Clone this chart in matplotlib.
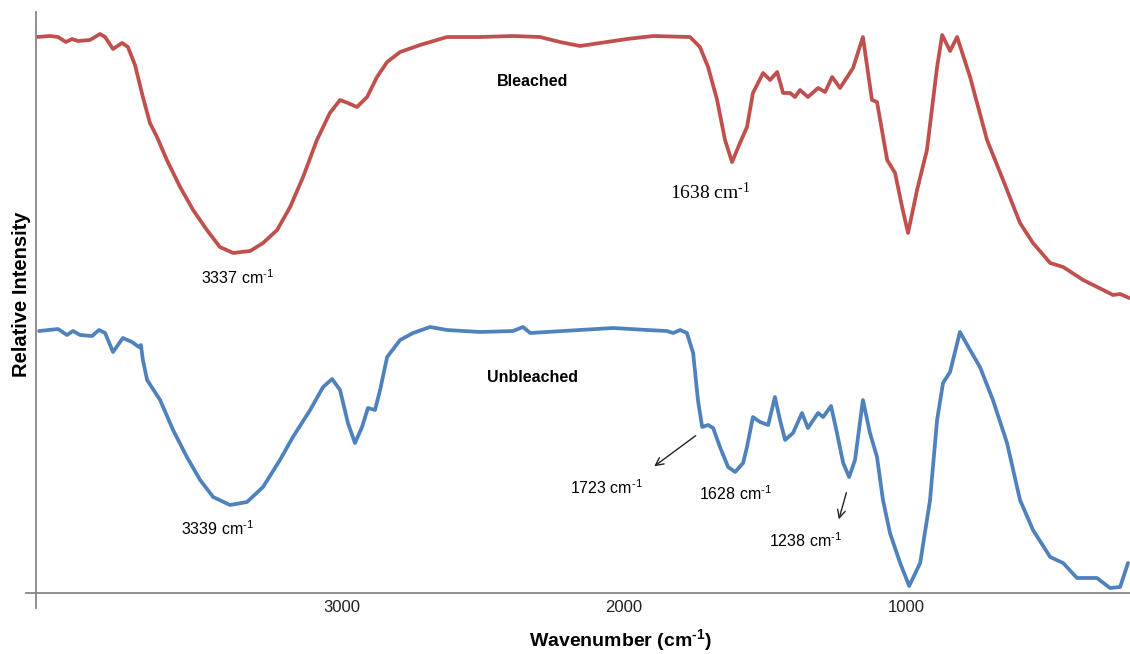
import matplotlib
matplotlib.use("Agg")
import matplotlib.pyplot as plt
from matplotlib.lines import Line2D

# ---- data ----
bleached_wn = [4082, 4035, 4007, 3979, 3957, 3936, 3894, 3858, 3840, 3812, 3780, 3759,
               3734, 3706, 3681, 3656, 3621, 3574, 3528, 3479, 3433, 3386, 3326, 3280,
               3230, 3184, 3138, 3089, 3043, 3007, 2979, 2947, 2911, 2876, 2840, 2794,
               2723, 2628, 2511, 2394, 2298, 2227, 2156, 2085, 1989, 1897, 1766, 1731,
               1702, 1670, 1642, 1617, 1589, 1564, 1543, 1507, 1482, 1457, 1436, 1411,
               1394, 1376, 1348, 1312, 1287, 1262, 1234, 1188, 1153, 1121, 1103, 1067,
               1039, 1014, 993, 961, 926, 890, 872, 844, 819, 773, 713, 656, 596, 550,
               489, 443, 372, 301, 266, 241, 209]
bleached_int = [556, 557, 556, 551, 554, 552, 553, 559, 556, 544, 550, 546,
                528, 496, 470, 456, 433, 406, 383, 363, 346, 340, 342, 350,
                363, 386, 416, 453, 480, 493, 490, 486, 496, 516, 531, 541,
                548, 556, 556, 557, 556, 551, 547, 550, 554, 557, 556, 546,
                526, 493, 453, 431, 450, 466, 500, 520, 513, 521, 500, 500,
                496, 503, 496, 505, 501, 516, 505, 525, 556, 493, 491, 433,
                420, 386, 360, 403, 443, 526, 558, 542, 556, 516, 453, 413, 370, 350,
                330, 326, 313, 303, 298, 299, 295]

unbleached_wn = [4074, 4007, 3975, 3954, 3929, 3886, 3862, 3840, 3812, 3777, 3745, 3720,
                 3713, 3706, 3691, 3645, 3599, 3550, 3503, 3457, 3397, 3337, 3280, 3220,
                 3174, 3113, 3067, 3035, 3007, 2979, 2954, 2929, 2908, 2883, 2865, 2840,
                 2794, 2748, 2688, 2628, 2511, 2394, 2358, 2333, 2216, 2039, 1918, 1848,
                 1826, 1801, 1777, 1755, 1738, 1723, 1702, 1684, 1660, 1631, 1606, 1578,
                 1564, 1543, 1518, 1489, 1465, 1447, 1429, 1401, 1369, 1348, 1312, 1294,
                 1266, 1245, 1223, 1202, 1181, 1153, 1128, 1103, 1082, 1057, 1021, 989,
                 950, 915, 890, 869, 844, 809, 773, 738, 692, 642, 596, 550, 489, 443,
                 394, 323, 277, 241, 213]
unbleached_int = [262, 264, 258, 262, 258, 257, 263, 260, 241, 255, 251, 246,
                  248, 233, 213, 193, 163, 136, 113, 96, 88, 91, 106, 133,
                  156, 183, 206, 214, 203, 170, 150, 166, 185, 183, 203, 236,
                  253, 260, 266, 263, 261, 262, 266, 260, 262, 265, 263, 262,
                  260, 263, 260, 240, 193, 166, 168, 165, 146, 126, 121, 130,
                  146, 176, 171, 168, 196, 173, 153, 160, 180, 165, 180, 176,
                  187, 160, 130, 116, 133, 193, 160, 136, 93, 60, 30, 7,
                  30, 93, 173, 210, 221, 261, 243, 226, 193, 150, 93, 63, 36, 30,
                  15, 15, 5, 6, 30]

tick_values = [3000, 2000, 1000]
tick_labels = ["3000", "2000", "1000"]

series_labels = ["Bleached", "Unbleached"]
peak_labels = ["3337", "1638", "3339", "1723", "1628", "1238"]

RED = "#C0504D"
BLUE = "#4F81BD"
SANS = ["Liberation Sans", "DejaVu Sans"]
SERIF = ["Liberation Serif", "DejaVu Serif"]

fig = plt.figure(figsize=(11.30, 6.54), dpi=100)
ax = fig.add_axes([36 / 1130, 61 / 654, 1094 / 1130, 581 / 654])

ax.plot(bleached_wn, bleached_int, color=RED, lw=2.7, solid_joinstyle="round",
        solid_capstyle="round")
ax.plot(unbleached_wn, unbleached_int, color=BLUE, lw=2.7, solid_joinstyle="round",
        solid_capstyle="round")

ax.set_xlim(4085, 206)
ax.set_ylim(0, 581)

for s in ["top", "right"]:
    ax.spines[s].set_visible(False)
for s in ["left", "bottom"]:
    ax.spines[s].set_color("#868686")
    ax.spines[s].set_linewidth(1.3)

ax.set_yticks([])
ax.set_xticks(tick_values)
ax.set_xticklabels(tick_labels, fontsize=12, family=SANS, color="#222222")
ax.tick_params(axis="x", length=0, pad=5)

# axis extensions (small cross at origin)
ax.add_line(Line2D([0, 0], [0, -15 / 581], transform=ax.transAxes, color="#868686",
                   lw=1.3, clip_on=False))
ax.add_line(Line2D([-10 / 1094, 0], [0, 0], transform=ax.transAxes, color="#868686",
                   lw=1.3, clip_on=False))

sup = "cm$\\mathregular{^{\u2010" + "1}}$"

# series labels
ax.text(2323, 511, series_labels[0], fontsize=11.5, fontweight="bold", family=SANS,
        ha="center", va="center")
ax.text(2323, 216, series_labels[1], fontsize=11.5, fontweight="bold", family=SANS,
        ha="center", va="center")

# peak labels
ax.text(3369, 315, f"{peak_labels[0]} {sup}", fontsize=11.5, family=SANS, ha="center", va="center")
ax.text(1695, 401, f"{peak_labels[1]} {sup}", fontsize=14, family=SERIF, ha="center", va="center")
ax.text(3440, 64, f"{peak_labels[2]} {sup}", fontsize=11.5, family=SANS, ha="center", va="center")
ax.text(2064, 105, f"{peak_labels[3]} {sup}", fontsize=11.5, family=SANS, ha="center", va="center")
ax.text(1606, 99, f"{peak_labels[4]} {sup}", fontsize=11.5, family=SANS, ha="center", va="center")
ax.text(1358, 52, f"{peak_labels[5]} {sup}", fontsize=11.5, family=SANS, ha="center", va="center")

# arrows
ax.annotate("", xy=(1901, 125), xytext=(1738, 159),
            arrowprops=dict(arrowstyle="->", color="#222222", lw=1.0, mutation_scale=14))
ax.annotate("", xy=(1241, 71), xytext=(1209, 103),
            arrowprops=dict(arrowstyle="->", color="#222222", lw=1.0, mutation_scale=14))

fig.text(22 / 1130, 1 - 294 / 654, "Relative Intensity", rotation=90, fontsize=14.5,
         fontweight="bold", family=SANS, ha="center", va="center")
fig.text(620 / 1130, 1 - 640 / 654, "Wavenumber (" + sup + ")", fontsize=14,
         fontweight="bold", family=SANS, ha="center", va="center")

fig.savefig("out.png", dpi=100)
